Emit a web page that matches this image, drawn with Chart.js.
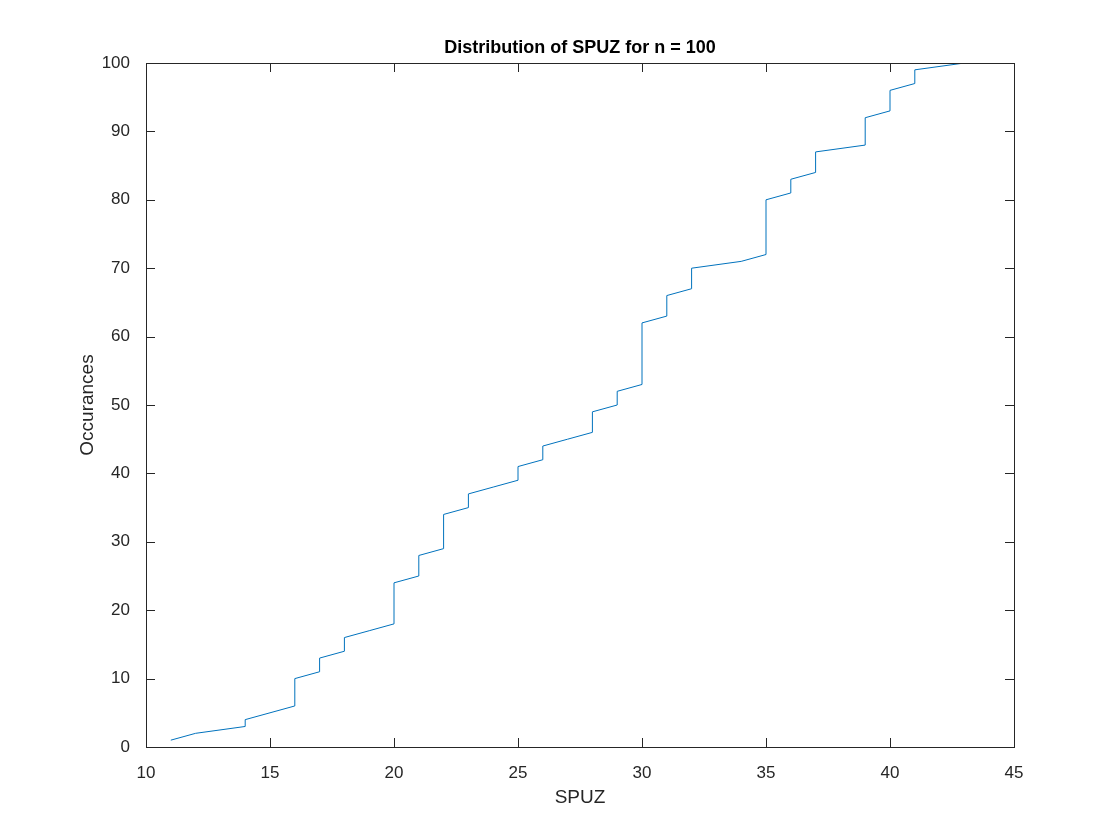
<!DOCTYPE html>
<html><head><meta charset="utf-8">
<script src="https://cdn.jsdelivr.net/npm/chart.js@4"></script>
<style>html,body{margin:0;background:#fff}#w{width:1120px;height:840px}</style>
</head><body><div id="w"><canvas id="c"></canvas></div>
<script>
const spuzValues = [11,12,14,15,16,17,18,19,20,21,22,23,24,25,26,27,28,29,30,31,32,34,35,36,37,39,40,41,43];
const spuzCounts = [1,1,2,1,5,3,3,1,7,4,6,3,1,3,3,1,4,3,10,4,4,1,9,3,4,5,4,3,1];
const xTicks = [10,15,20,25,30,35,40,45];
const yTicks = [0,10,20,30,40,50,60,70,80,90,100];
const titleText = 'Distribution of SPUZ for n = 100';
const xLabel = 'SPUZ';
const yLabel = 'Occurances';

const pts = [];
let k = 0;
spuzValues.forEach((v,i)=>{ for(let j=0;j<spuzCounts[i];j++){ k++; pts.push({x:v,y:k}); } });

const fam = 'Liberation Sans, Arial, sans-serif';
const font = {family:fam, size:17};
const boxPlugin = {
  id:'box',
  afterDraw(ch){
    const c=ch.ctx, a=ch.chartArea, xs=ch.scales.x, ys=ch.scales.y;
    c.save(); c.strokeStyle='#262626'; c.lineWidth=1;
    c.strokeRect(a.left+0.5,a.top+0.5,a.right-a.left,a.bottom-a.top);
    c.beginPath();
    xTicks.forEach(t=>{const p=Math.round(xs.getPixelForValue(t))+0.5;
      c.moveTo(p,a.bottom);c.lineTo(p,a.bottom-9);c.moveTo(p,a.top);c.lineTo(p,a.top+9);});
    yTicks.forEach(t=>{const p=Math.round(ys.getPixelForValue(t))+0.5;
      c.moveTo(a.left,p);c.lineTo(a.left+9,p);c.moveTo(a.right,p);c.lineTo(a.right-9,p);});
    c.stroke();
    c.fillStyle='#000'; c.font='bold 18px '+fam;
    c.textAlign='center'; c.textBaseline='alphabetic';
    c.fillText(titleText,(a.left+a.right)/2,53);
    c.fillStyle='#262626'; c.font='19px '+fam; c.textBaseline='middle';
    c.fillText(xLabel,(a.left+a.right)/2,798);
    c.translate(88,(a.top+a.bottom)/2); c.rotate(-Math.PI/2);
    c.fillText(yLabel,0,0);
    c.restore();
  }
};
new Chart(document.getElementById('c'),{
  type:'scatter',
  data:{datasets:[{data:pts,showLine:true,borderColor:'#0072BD',borderWidth:1,pointRadius:0,fill:false}]},
  options:{
    responsive:true,maintainAspectRatio:false,animation:false,
    layout:{padding:{left:0,top:63,right:106,bottom:0}},
    plugins:{legend:{display:false},tooltip:{enabled:false}},
    scales:{
      x:{type:'linear',min:10,max:45,
        afterBuildTicks(s){s.ticks=xTicks.map(v=>({value:v}));},
        afterFit(s){s.height=93;},
        grid:{display:false},border:{display:false},
        ticks:{font,color:'#262626',padding:8,maxRotation:0}},
      y:{type:'linear',min:0,max:100,
        afterBuildTicks(s){s.ticks=yTicks.map(v=>({value:v}));},
        afterFit(s){s.width=146;},
        grid:{display:false},border:{display:false},
        ticks:{font,color:'#262626',padding:8}}
    }
  },
  plugins:[boxPlugin]
});
</script></body></html>
